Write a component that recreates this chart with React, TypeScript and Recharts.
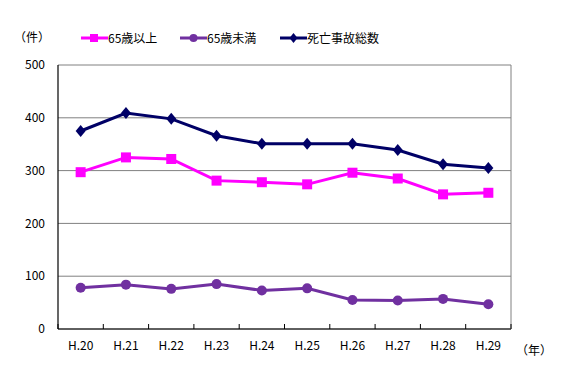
import { LineChart, Line, XAxis, YAxis, CartesianGrid } from 'recharts'

const years = ['H.20', 'H.21', 'H.22', 'H.23', 'H.24', 'H.25', 'H.26', 'H.27', 'H.28', 'H.29']
const over65 = [297, 325, 322, 281, 278, 274, 296, 285, 255, 258]
const under65 = [78, 84, 76, 85, 73, 77, 55, 54, 57, 47]
const total = [375, 409, 398, 366, 351, 351, 351, 339, 312, 305]
const yTicks = [0, 100, 200, 300, 400, 500]

const data = years.map((y, i) => ({ year: y, over65: over65[i], under65: under65[i], total: total[i] }))

const FONT = '"Noto Sans CJK JP", "Noto Sans", sans-serif'

const C_OVER = '#ff00ff'
const C_UNDER = '#7030a0'
const C_TOTAL = '#000066'

function SquareDot({ cx, cy }: any) {
  if (cx == null || cy == null) return null
  return <rect x={cx - 5} y={cy - 5} width={10} height={10} fill={C_OVER} />
}

function CircleDot({ cx, cy }: any) {
  if (cx == null || cy == null) return null
  return <circle cx={cx} cy={cy} r={5} fill={C_UNDER} />
}

function DiamondDot({ cx, cy }: any) {
  if (cx == null || cy == null) return null
  return <path d={`M${cx},${cy - 6}L${cx + 5},${cy}L${cx},${cy + 6}L${cx - 5},${cy}Z`} fill={C_TOTAL} />
}

function XTick({ x, y, payload, index }: any) {
  const off = payload.offset || 0
  return (
    <g>
      <line x1={x - off} y1={y} x2={x - off} y2={y - 5} stroke="#000" />
      {index === years.length - 1 && <line x1={x + off} y1={y} x2={x + off} y2={y - 5} stroke="#000" />}
      <text x={x} y={y + 21} textAnchor="middle" fontSize={12} fontFamily={FONT} fill="#000">
        {payload.value}
      </text>
    </g>
  )
}

const legendItems = [
  { label: '65歳以上', color: C_OVER, shape: 'square', left: 81 },
  { label: '65歳未満', color: C_UNDER, shape: 'circle', left: 180 },
  { label: '死亡事故総数', color: C_TOTAL, shape: 'diamond', left: 280 },
]

function ChartLegend() {
  return (
    <div style={{ position: 'absolute', left: 0, top: 29, height: 20, width: 567, fontFamily: FONT, fontSize: 12 }}>
      {legendItems.map((it) => (
        <div key={it.label} style={{ position: 'absolute', left: it.left, top: 0, display: 'flex', alignItems: 'center' }}>
          <svg width={27} height={12}>
            <line x1={0} y1={6} x2={27} y2={6} stroke={it.color} strokeWidth={3} />
            {it.shape === 'square' && <rect x={9} y={2} width={8} height={8} fill={it.color} />}
            {it.shape === 'circle' && <circle cx={13.5} cy={6} r={4} fill={it.color} />}
            {it.shape === 'diamond' && <path d="M13.5,1L17.5,6L13.5,11L9.5,6Z" fill={it.color} />}
          </svg>
          <span style={{ color: '#000' }}>{it.label}</span>
        </div>
      ))}
    </div>
  )
}

export default function App() {
  return (
    <div style={{ position: 'absolute', left: 0, top: 0, width: 567, height: 378, background: '#fff' }}>
      <div style={{ position: 'absolute', left: 14, top: 28, fontFamily: FONT, fontSize: 12 }}>（件）</div>
      <div style={{ position: 'absolute', left: 516, top: 341, fontFamily: FONT, fontSize: 12 }}>（年）</div>
      <ChartLegend />
      <LineChart width={567} height={378} data={data} margin={{ top: 65, right: 55, bottom: 19, left: 0 }}>
        <CartesianGrid vertical={false} stroke="#808080" strokeWidth={1} />
        <XAxis
          dataKey="year"
          scale="band"
          height={30}
          tickSize={0}
          tickMargin={0}
          tick={<XTick />}
          axisLine={{ stroke: '#000', strokeWidth: 1.2 }}
          interval={0}
        />
        <YAxis
          domain={[0, 500]}
          ticks={yTicks}
          width={58}
          tickLine={false}
          tickMargin={7}
          axisLine={{ stroke: '#000', strokeWidth: 1.2 }}
          tick={{ fontSize: 12, fontFamily: FONT, fill: '#000' }}
        />
        <YAxis
          yAxisId="r"
          orientation="right"
          domain={[0, 500]}
          width={1}
          tick={false}
          tickLine={false}
          axisLine={{ stroke: '#808080' }}
        />
        <Line dataKey="over65" name="65歳以上" stroke={C_OVER} strokeWidth={3} dot={<SquareDot />} isAnimationActive={false} />
        <Line dataKey="under65" name="65歳未満" stroke={C_UNDER} strokeWidth={3} dot={<CircleDot />} isAnimationActive={false} />
        <Line dataKey="total" name="死亡事故総数" stroke={C_TOTAL} strokeWidth={3} dot={<DiamondDot />} isAnimationActive={false} />
      </LineChart>
    </div>
  )
}
